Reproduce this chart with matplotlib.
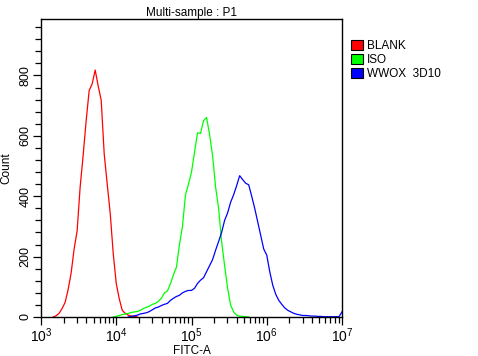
import matplotlib
matplotlib.use("Agg")
import matplotlib.pyplot as plt
import numpy as np
from matplotlib.patches import Patch
from matplotlib.ticker import LogLocator, MultipleLocator

plt.rcParams['font.family'] = ['Liberation Sans', 'DejaVu Sans']
plt.rcParams['mathtext.fontset'] = 'custom'
plt.rcParams['mathtext.rm'] = 'Liberation Sans'

# histogram bins: log10(FITC-A) = 3.0 + 0.04 * bin
bin_step = 0.04

# BLANK, bins 4..32
blank_start = 4
blank_counts = [0, 4, 12, 28, 48, 90, 145, 225, 285, 430, 535, 650, 750, 772,
                818, 765, 718, 540, 440, 343, 210, 111, 60, 22, 12, 6, 3, 2, 0]

# ISO, bins 24..69
iso_start = 24
iso_counts = [0, 2, 5, 8, 10, 12, 15, 17, 18, 22, 28, 32, 36, 42, 45, 52, 62,
              80, 86, 110, 140, 165, 240, 300, 405, 440, 480, 545, 610, 608,
              650, 661, 605, 535, 431, 360, 250, 170, 95, 39, 17, 6, 3, 2, 1, 0]

# WWOX 3D10, bins 29..100
wwox_start = 29
wwox_counts = [0, 2, 4, 6, 10, 12, 14, 18, 24, 30, 33, 38, 42, 45, 55, 62, 68,
               72, 80, 85, 88, 88, 95, 111, 122, 130, 150, 170, 190, 221, 250,
               280, 320, 345, 380, 405, 435, 468, 455, 443, 438, 400, 360, 315,
               270, 225, 205, 150, 105, 75, 55, 42, 30, 22, 17, 12, 9, 7, 5, 5,
               4, 3, 3, 2, 2, 1, 1, 1, 1, 1, 1, 17]

series = [
    ("BLANK", blank_start, blank_counts, "#ff0000"),
    ("ISO", iso_start, iso_counts, "#00ff00"),
    ("WWOX  3D10", wwox_start, wwox_counts, "#0000ff"),
]

fig = plt.figure(figsize=(4.78, 3.56), dpi=100)
ax = fig.add_axes([41 / 478, 39 / 356, 301 / 478, 298 / 356])

for name, start, counts, color in series:
    bins = np.arange(start, start + len(counts))
    x = 10 ** (3.0 + bin_step * bins)
    ax.plot(x, counts, color=color, lw=0.9)

ax.set_xscale('log')
ax.set_xlim(1e3, 1e7)
ax.set_ylim(0, 987)
ax.xaxis.set_major_locator(LogLocator(base=10, numticks=10))
ax.xaxis.set_minor_locator(LogLocator(base=10, subs=np.arange(2, 10), numticks=20))
ax.yaxis.set_major_locator(MultipleLocator(200))
ax.yaxis.set_minor_locator(MultipleLocator(40))

ax.tick_params(which='major', direction='out', length=6, width=0.9)
ax.tick_params(which='minor', direction='out', length=4, width=0.9)
ax.tick_params(axis='x', labelsize=10, pad=1)
ax.tick_params(axis='y', labelsize=9, pad=1)
for lab in ax.get_yticklabels():
    lab.set_rotation(90)
    lab.set_va('center')
for s in ax.spines.values():
    s.set_linewidth(1.0)

ax.set_title("Multi-sample : P1", fontsize=8.5, pad=2)
ax.set_xlabel("FITC-A", fontsize=8.5, labelpad=0)
ax.set_ylabel("Count", fontsize=8.5, labelpad=5)

handles = [Patch(facecolor=c, edgecolor='black', lw=0.8) for _, _, _, c in series]
fig.legend(handles, [n for n, _, _, _ in series], loc='upper left',
           bbox_to_anchor=(346 / 478, 1 - 35 / 356), frameon=False,
           fontsize=8.5, handlelength=1.0, handleheight=1.0, handletextpad=0.4,
           labelspacing=0.15, borderaxespad=0)

fig.savefig("out.png", dpi=100)
